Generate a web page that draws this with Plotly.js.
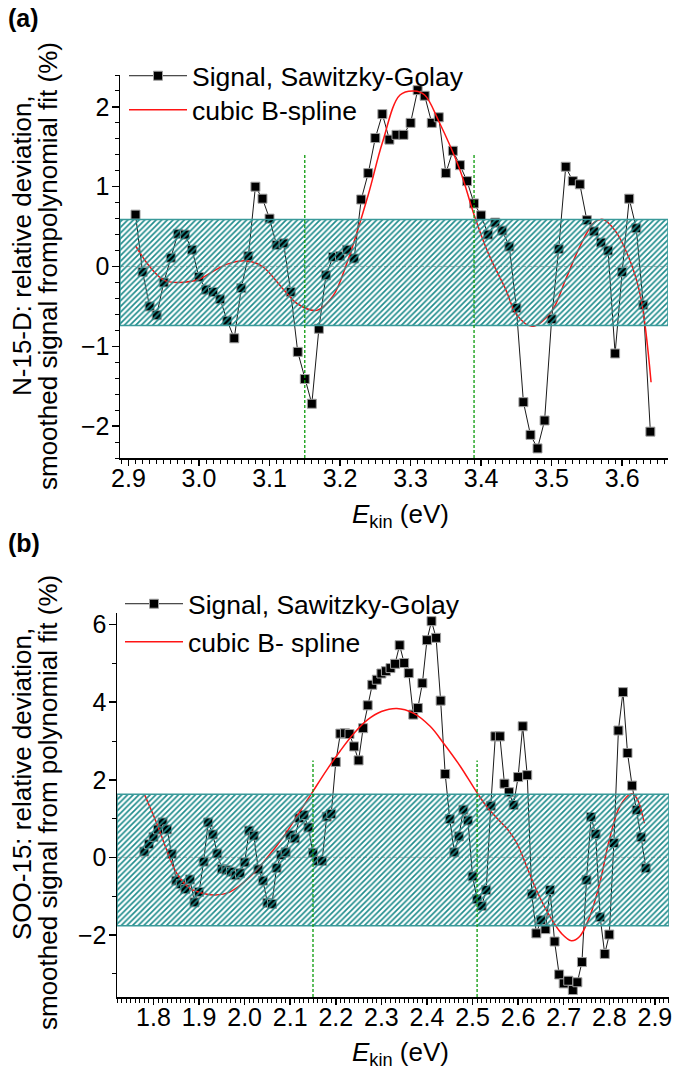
<!DOCTYPE html>
<html>
<head>
<meta charset="utf-8">
<script src="https://cdn.plot.ly/plotly-3.0.1.min.js"></script>
<style>
  html, body { margin: 0; padding: 0; background: #ffffff; }
  #chart { width: 673px; height: 1070px; }
</style>
</head>
<body>
<div id="chart"></div>
<script>
// ---------- Panel (a): N-15-D ----------
const aEnergy = [2.91, 2.92, 2.93, 2.94, 2.95, 2.96, 2.97, 2.98, 2.99, 3.00,
  3.01, 3.02, 3.03, 3.04, 3.05, 3.06, 3.07, 3.08, 3.09, 3.10,
  3.11, 3.12, 3.13, 3.14, 3.15, 3.16, 3.17, 3.18, 3.19, 3.20,
  3.21, 3.22, 3.23, 3.24, 3.25, 3.26, 3.27, 3.28, 3.29, 3.30,
  3.31, 3.32, 3.33, 3.34, 3.35, 3.36, 3.37, 3.38, 3.39, 3.40,
  3.41, 3.42, 3.43, 3.44, 3.45, 3.46, 3.47, 3.48, 3.49, 3.50,
  3.51, 3.52, 3.53, 3.54, 3.55, 3.56, 3.57, 3.58, 3.59, 3.60,
  3.61, 3.62, 3.63, 3.64];
const aSignal = [0.65, -0.07, -0.50, -0.61, -0.20, 0.11, 0.41, 0.40, 0.21, -0.13,
  -0.29, -0.32, -0.41, -0.68, -0.90, -0.27, 0.13, 1.00, 0.85, 0.60,
  0.27, 0.29, -0.32, -1.07, -1.41, -1.72, -0.78, -0.11, 0.12, 0.13,
  0.21, 0.10, 0.84, 1.17, 1.61, 1.91, 1.59, 1.65, 1.65, 1.80,
  2.21, 2.14, 1.80, 1.87, 1.17, 1.45, 1.27, 1.07, 0.79, 0.64,
  0.40, 0.55, 0.45, 0.25, -0.52, -1.70, -2.11, -2.28, -1.93, -0.66,
  0.22, 1.25, 1.07, 1.03, 0.58, 0.44, 0.30, 0.20, -1.09, -0.07,
  0.85, 0.48, -0.48, -2.07];
const aSplineX = [2.91, 2.93, 2.95, 2.97, 3.00, 3.02, 3.04, 3.068, 3.09, 3.12,
  3.14, 3.167, 3.19, 3.21, 3.24, 3.26, 3.285, 3.305, 3.32, 3.34,
  3.37, 3.39, 3.41, 3.435, 3.45, 3.472, 3.50, 3.52, 3.54, 3.56,
  3.573, 3.59, 3.61, 3.626, 3.641];
const aSplineY = [0.26, 0.0, -0.17, -0.20, -0.16, -0.06, 0.03, 0.07, 0.0, -0.29,
  -0.47, -0.55, -0.37, 0.05, 0.90, 1.55, 2.15, 2.20, 2.15, 1.82,
  1.21, 0.65, 0.17, -0.29, -0.60, -0.75, -0.56, -0.16, 0.25, 0.55,
  0.59, 0.45, 0.10, -0.37, -1.45];
const aBandLimits = [-0.74, 0.59];
const aGuideX = [3.15, 3.39];
const aGuideTop = 1.42;

// ---------- Panel (b): SOO-15 ----------
const bEnergy = [1.78, 1.79, 1.80, 1.81, 1.82, 1.83, 1.84, 1.85, 1.86, 1.87,
  1.88, 1.89, 1.90, 1.91, 1.92, 1.93, 1.94, 1.95, 1.96, 1.97,
  1.98, 1.99, 2.00, 2.01, 2.02, 2.03, 2.04, 2.05, 2.06, 2.07,
  2.08, 2.09, 2.10, 2.11, 2.12, 2.13, 2.14, 2.15, 2.16, 2.17,
  2.18, 2.19, 2.20, 2.21, 2.22, 2.23, 2.24, 2.25, 2.26, 2.27,
  2.28, 2.29, 2.30, 2.31, 2.32, 2.33, 2.34, 2.35, 2.36, 2.37,
  2.38, 2.39, 2.40, 2.41, 2.42, 2.43, 2.44, 2.45, 2.46, 2.47,
  2.48, 2.49, 2.50, 2.51, 2.52, 2.53, 2.54, 2.55, 2.56, 2.57,
  2.58, 2.59, 2.60, 2.61, 2.62, 2.63, 2.64, 2.65, 2.66, 2.67,
  2.68, 2.69, 2.70, 2.71, 2.72, 2.73, 2.74, 2.75, 2.76, 2.77,
  2.78, 2.79, 2.80, 2.81, 2.82, 2.83, 2.84, 2.85, 2.86, 2.87,
  2.88];
const bSignal = [0.15, 0.34, 0.53, 0.72, 0.90, 0.72, 0.09, -0.60, -0.69, -0.82,
  -0.57, -1.16, -0.89, -0.11, 0.90, 0.59, 0.10, -0.30, -0.33, -0.37,
  -0.46, -0.41, -0.13, 0.69, 0.56, -0.31, -0.60, -1.17, -1.20, -0.27,
  0.06, 0.13, 0.58, 0.49, 1.01, 1.09, 0.77, 0.12, -0.09, -0.09,
  1.05, 1.12, 2.46, 3.19, 3.20, 3.18, 2.86, 2.50, 3.33, 3.92,
  4.45, 4.58, 4.74, 4.80, 4.88, 4.99, 5.47, 5.01, 4.75, 3.68,
  3.85, 4.49, 5.60, 6.09, 5.66, 4.04, 2.15, 0.99, 0.13, 0.54,
  1.23, 0.95, -0.49, -1.08, -1.25, -0.84, 1.33, 3.12, 3.12, 1.90,
  1.68, 1.35, 2.07, 3.38, 2.12, -0.95, -1.96, -1.62, -1.85, -0.84,
  -2.17, -3.02, -3.25, -3.18, -3.42, -3.22, -2.70, -0.58, 1.04, 0.60,
  -1.54, -2.49, -1.99, 0.37, 3.27, 4.26, 2.69, 1.85, 1.22, 0.52,
  -0.28];
const bSplineX = [1.78, 1.807, 1.829, 1.851, 1.88, 1.91, 1.935, 1.968, 2.012, 2.048,
  2.085, 2.114, 2.147, 2.18, 2.21, 2.24, 2.27, 2.30, 2.334, 2.37,
  2.407, 2.436, 2.473, 2.508, 2.531, 2.56, 2.575, 2.597, 2.619, 2.64,
  2.67, 2.695, 2.717, 2.735, 2.757, 2.779, 2.80, 2.823, 2.849, 2.86,
  2.877];
const bSplineY = [1.63, 0.88, 0.19, -0.41, -0.80, -0.93, -0.97, -0.89, -0.50, -0.03,
  0.53, 1.05, 1.65, 2.25, 2.75, 3.20, 3.55, 3.76, 3.84, 3.72,
  3.38, 2.95, 2.35, 1.70, 1.31, 0.93, 0.75, 0.37, -0.24, -0.84,
  -1.53, -1.96, -2.15, -2.04, -1.53, -0.67, 0.45, 1.31, 1.64, 1.53,
  0.88];
const bBandLimits = [-1.76, 1.63];
const bGuideX = [2.15, 2.51];
const bGuideTop = 2.5;

const legendSignal = 'Signal, Sawitzky-Golay';
const legendSplineA = 'cubic B-spline';
const legendSplineB = 'cubic B- spline';
const yTitleA = ['N-15-D: relative deviation,', 'smoothed signal frompolynomial fit (%)'];
const yTitleB = ['SOO-15: relative deviation,', 'smoothed signal from polynomial fit (%)'];
const xTitle = '<i>E</i><sub>kin</sub> (eV)';

// ---------- geometry / styling ----------
const W = 673, H = 1070;
const FONT = 'Liberation Sans, Arial, Helvetica, sans-serif';
const aXRange = [2.888, 3.665], aYRange = [-2.4, 2.4];
const bXRange = [1.72, 2.931], bYRange = [-3.6, 6.3];
const px = v => v / W;
const py = v => 1 - v / H;

const markerStyle = { symbol: 'square', size: 9, color: '#000000',
  line: { color: '#a0a0a0', width: 1 } };
const signalLine = { color: '#1a1a1a', width: 1 };
const splineLine = { color: '#ff1414', width: 1.5, shape: 'spline', smoothing: 1 };

function bandTrace(xr, lim, xa, ya) {
  return {
    x: [xr[0], xr[1], xr[1], xr[0], xr[0]],
    y: [lim[0], lim[0], lim[1], lim[1], lim[0]],
    xaxis: xa, yaxis: ya, type: 'scatter', mode: 'lines',
    fill: 'toself', fillcolor: 'rgba(0,0,0,0)',
    fillpattern: { shape: '/', fgcolor: '#1f8c8c', size: 4, solidity: 0.42 },
    line: { color: '#3a9a9a', width: 1.5 },
    showlegend: false, hoverinfo: 'skip'
  };
}

const traces = [
  { x: aEnergy, y: aSignal, xaxis: 'x', yaxis: 'y', type: 'scatter',
    mode: 'lines+markers', name: legendSignal, legend: 'legend',
    line: signalLine, marker: markerStyle },
  { x: aSplineX, y: aSplineY, xaxis: 'x', yaxis: 'y', type: 'scatter',
    mode: 'lines', name: legendSplineA, legend: 'legend2', line: splineLine },
  bandTrace(aXRange, aBandLimits, 'x', 'y'),
  { x: bEnergy, y: bSignal, xaxis: 'x2', yaxis: 'y2', type: 'scatter',
    mode: 'lines+markers', name: legendSignal, legend: 'legend3',
    line: signalLine, marker: markerStyle },
  { x: bSplineX, y: bSplineY, xaxis: 'x2', yaxis: 'y2', type: 'scatter',
    mode: 'lines', name: legendSplineB, legend: 'legend4', line: splineLine },
  bandTrace(bXRange, bBandLimits, 'x2', 'y2')
];

function axisBase(extra) {
  return Object.assign({
    showline: true, linecolor: '#000000', linewidth: 1.5,
    ticks: 'outside', ticklen: 7, tickwidth: 1.5, tickcolor: '#000000',
    showgrid: false, zeroline: false, mirror: false,
    tickfont: { family: FONT, size: 25, color: '#000000' },
    fixedrange: true
  }, extra);
}
const minorTicks = dt => ({ ticks: 'outside', ticklen: 4, tickwidth: 1, tickcolor: '#000', dtick: dt, showgrid: false });

function legendAt(x, y) {
  return { x: px(x), y: py(y), xanchor: 'left', yanchor: 'middle',
    bgcolor: 'rgba(0,0,0,0)', borderwidth: 0, itemwidth: 58,
    font: { family: FONT, size: 26.5, color: '#000000' } };
}

function guideShapes(xs, top, yBottom, xa, ya) {
  return xs.map(v => ({ type: 'line', xref: xa, yref: ya, x0: v, x1: v,
    y0: yBottom, y1: top, line: { color: '#0a9a0a', width: 1.3, dash: '3px,2px' } }));
}

function zeroShape(xa, ya) {
  return { type: 'line', xref: xa + ' domain', yref: ya, x0: 0, x1: 1, y0: 0, y1: 0,
    layer: 'below', line: { color: '#b0b0b0', width: 1, dash: '4px,2px' } };
}

function textNote(text, x, y, size, extra) {
  return Object.assign({ text: text, xref: 'paper', yref: 'paper', x: px(x), y: py(y),
    xanchor: 'center', yanchor: 'middle', showarrow: false,
    font: { family: FONT, size: size, color: '#000000' } }, extra || {});
}

const layout = {
  width: W, height: H,
  margin: { l: 0, r: 0, t: 0, b: 0 },
  paper_bgcolor: '#ffffff', plot_bgcolor: 'rgba(0,0,0,0)',
  font: { family: FONT, color: '#000000' },
  xaxis: axisBase({ domain: [px(120), px(668)], range: aXRange, anchor: 'y',
    tick0: 2.9, dtick: 0.1, tickformat: '.1f', ticklen: 6, ticklabelstandoff: -9,
    minor: minorTicks(0.01) }),
  yaxis: axisBase({ domain: [py(458), py(75)], range: aYRange, anchor: 'x',
    tick0: 0, dtick: 1, ticklabelstandoff: -3, minor: minorTicks(0.2) }),
  xaxis2: axisBase({ domain: [px(117), px(669)], range: bXRange, anchor: 'y2',
    tick0: 1.8, dtick: 0.1, tickformat: '.1f', ticklen: 6, ticklabelstandoff: -9,
    minor: minorTicks(0.01) }),
  yaxis2: axisBase({ domain: [py(997), py(613)], range: bYRange, anchor: 'x2',
    tick0: 0, dtick: 2, ticklabelstandoff: -3, minor: minorTicks(1) }),
  legend: legendAt(124, 76),
  legend2: legendAt(124, 110),
  legend3: legendAt(120, 604),
  legend4: legendAt(120, 642),
  shapes: [
    zeroShape('x', 'y'),
    zeroShape('x2', 'y2'),
    ...guideShapes(aGuideX, aGuideTop, aYRange[0], 'x', 'y'),
    ...guideShapes(bGuideX, bGuideTop, bYRange[0], 'x2', 'y2')
  ],
  annotations: [
    textNote('<b>(a)</b>', 6, 18, 25, { xanchor: 'left' }),
    textNote('<b>(b)</b>', 6, 543, 25, { xanchor: 'left' }),
    textNote(yTitleA[0], 22, 246, 26, { textangle: -90 }),
    textNote(yTitleA[1], 48, 266, 26, { textangle: -90 }),
    textNote(yTitleB[0], 22, 784, 26, { textangle: -90 }),
    textNote(yTitleB[1], 48, 803, 26, { textangle: -90 }),
    textNote(xTitle, 400, 515, 26),
    textNote(xTitle, 400, 1053, 26)
  ]
};

Plotly.newPlot('chart', traces, layout, { staticPlot: true, displayModeBar: false });
</script>
</body>
</html>
